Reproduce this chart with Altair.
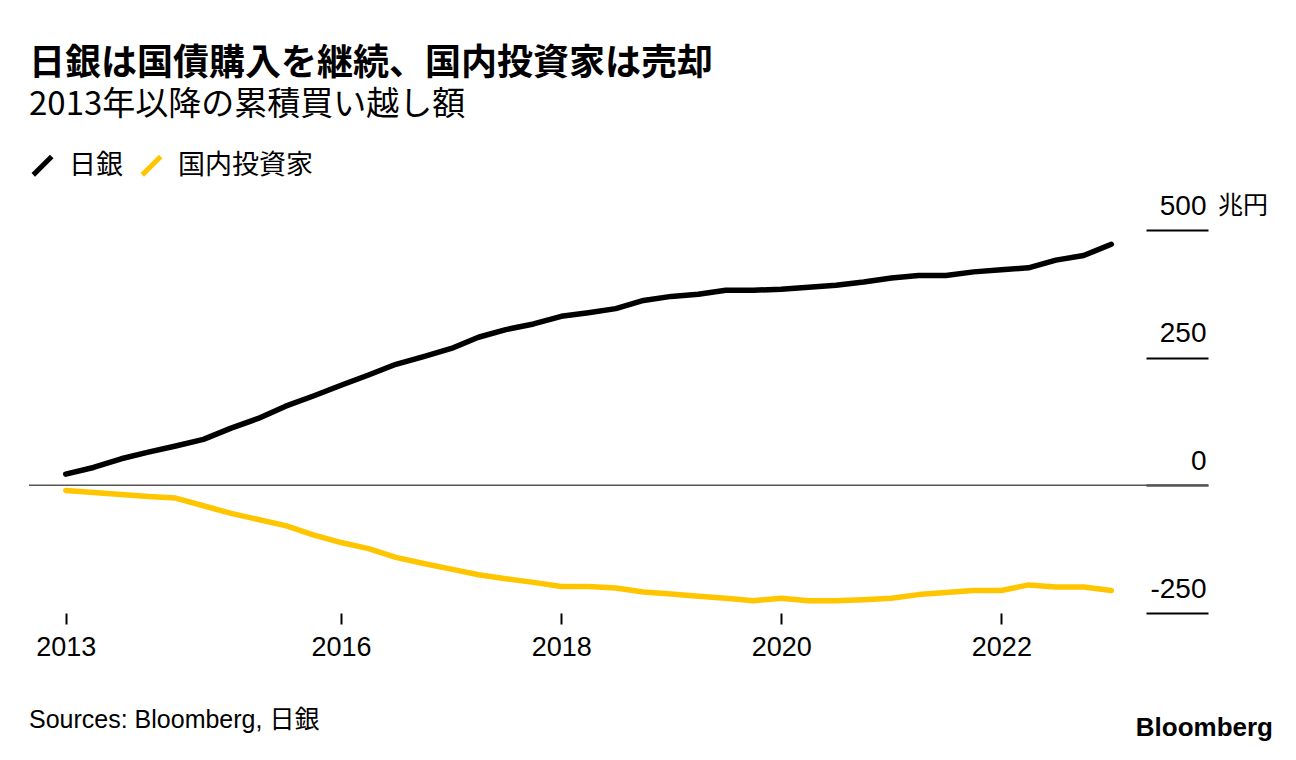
import altair as alt
import pandas as pd

# ---- data ----
series_names = ["日銀", "国内投資家"]
series_colors = ["#000000", "#FFC600"]

quarters = list(pd.date_range("2013-07-01", "2023-01-01", freq="QS").strftime("%Y-%m-%d"))

boj = [22, 35, 52, 65, 77, 90, 112, 131, 155, 175, 196, 216, 237, 252, 268,
       290, 305, 316, 331, 338, 346, 362, 370, 374, 382, 382, 384, 388, 392,
       398, 406, 411, 411, 418, 422, 426, 441, 450, 472]
domestic = [-10, -14, -18, -22, -25, -40, -55, -67, -79, -97, -112, -124, -141,
            -153, -164, -175, -183, -190, -198, -198, -201, -209, -213, -217,
            -221, -226, -221, -226, -226, -224, -221, -214, -210, -206, -206,
            -195, -199, -199, -206]

y_ticks = [-250, 0, 250, 500]
x_tick_dates = [(2013, 7, 1), (2016, 1, 1), (2018, 1, 1), (2020, 1, 1), (2022, 1, 1)]

title_text = "日銀は国債購入を継続、国内投資家は売却"
subtitle_text = "2013年以降の累積買い越し額"
unit_text = "兆円"
source_text = "Sources: Bloomberg, 日銀"
logo_text = "Bloomberg"

# ---- tables ----
df = pd.DataFrame({
    "date": quarters * 2,
    "value": boj + domestic,
    "series": [series_names[0]] * len(quarters) + [series_names[1]] * len(quarters),
})

LATIN = "Liberation Sans, Noto Sans CJK JP"
CJK = "Noto Sans CJK JP"

W, H = 1179, 383

x_enc = alt.X(
    "date:T",
    scale=alt.Scale(
        type="utc",
        domain=[alt.DateTime(year=2013, month=3, date=1, utc=True),
                alt.DateTime(year=2023, month=11, date=18, utc=True)],
    ),
    axis=alt.Axis(
        values=[alt.DateTime(year=y, month=m, date=d, utc=True) for y, m, d in x_tick_dates],
        labelExpr="utcFormat(datum.value, '%Y')",
        title=None, domain=False, grid=False,
        tickSize=11, tickWidth=2, tickColor="#000000",
        labelFont=LATIN, labelFontSize=27, labelColor="#000000",
        labelPadding=10, labelFlush=False, labelOverlap=False,
    ),
)

y_scale = alt.Scale(domain=[-250, 500], nice=False, zero=False)

lines = alt.Chart(df).mark_line(strokeWidth=5.5, strokeCap="round", strokeJoin="round").encode(
    x=x_enc,
    y=alt.Y(
        "value:Q", scale=y_scale,
        axis=alt.Axis(
            orient="right", offset=-62, values=y_ticks, title=None,
            domain=False, grid=False,
            tickSize=62, tickWidth=2, tickColor="#000000",
            labelExpr="datum.value < 0 ? '-' + abs(datum.value) : '' + datum.value",
            labelAlign="right", labelBaseline="alphabetic", labelOffset=-16,
            labelPadding=-2, labelFont=LATIN, labelFontSize=28, labelColor="#000000",
            labelFlush=False, labelOverlap=False,
        ),
    ),
    color=alt.Color(
        "series:N",
        scale=alt.Scale(domain=series_names, range=series_colors),
        legend=alt.Legend(
            title=None, orient="none", legendX=0, legendY=-78,
            direction="horizontal",
            symbolType="M-1,1L1,-1", symbolSize=340, symbolStrokeWidth=5,
            labelFont=CJK, labelFontSize=27, labelColor="#000000",
            labelOffset=13, columnPadding=9,
        ),
    ),
    detail="series:N",
)

zero = alt.Chart(pd.DataFrame({"v": [0]})).mark_rule(color="#555555", strokeWidth=1.5).encode(
    y=alt.Y("v:Q", scale=y_scale)
)

unit = alt.Chart(pd.DataFrame({"v": [500], "t": [unit_text]})).mark_text(
    align="left", baseline="alphabetic", font=CJK, fontSize=25, color="#000000", dy=-16
).encode(y=alt.Y("v:Q", scale=y_scale), x=alt.value(W + 10), text="t:N")

source = alt.Chart(pd.DataFrame({"t": [source_text]})).mark_text(
    align="left", baseline="alphabetic", font=LATIN, fontSize=25, color="#000000"
).encode(x=alt.value(0), y=alt.value(H + 115), text="t:N")

logo = alt.Chart(pd.DataFrame({"t": [logo_text]})).mark_text(
    align="right", baseline="alphabetic", font=LATIN, fontSize=26, fontWeight="bold",
    color="#000000"
).encode(x=alt.value(W + 65), y=alt.value(H + 123), text="t:N")

chart = alt.layer(zero, lines, unit, source, logo).properties(
    width=W, height=H, background="#ffffff",
    padding={"left": 20, "top": 38, "right": 5, "bottom": 0},
    title=alt.TitleParams(
        text=title_text, subtitle=subtitle_text, anchor="start", frame="group",
        font=CJK, fontSize=36, fontWeight="bold", color="#000000",
        subtitleFont=CJK, subtitleFontSize=33, subtitleColor="#000000",
        subtitlePadding=6, offset=29,
    ),
).configure_view(stroke=None)

chart.save("out.html", embed_options={"renderer": "svg", "actions": False})
